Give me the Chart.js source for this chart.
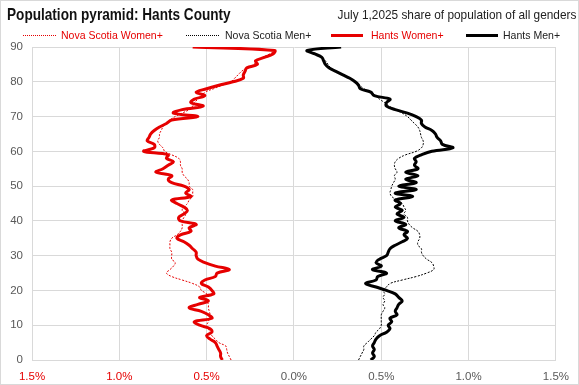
<!DOCTYPE html>
<html>
<head>
<meta charset="utf-8">
<script src="https://cdn.jsdelivr.net/npm/chart.js@4.4.1/dist/chart.umd.min.js"></script>
<style>
  body { margin: 0; background: #fff; }
  #wrap { position: relative; width: 579px; height: 385px; overflow: hidden; }
  #frame { position: absolute; left: 0; top: 0; right: 0; bottom: 0; border: 1px solid #d9d9d9; pointer-events: none; }
  canvas { position: absolute; left: 0; top: 0; }
  .title { position: absolute; left: 7px; top: 6px; font: bold 17px/17px "Liberation Sans", sans-serif; color: #111; white-space: nowrap; transform: scaleX(0.8); transform-origin: left top; }
  .subtitle { position: absolute; right: 3px; top: 8px; font: 13px/13px "Liberation Sans", sans-serif; color: #222; white-space: nowrap; transform: scaleX(0.91); transform-origin: right top; }
  .leg { position: absolute; top: 29px; font: 11.5px/12px "Liberation Sans", sans-serif; white-space: nowrap; transform: scaleX(0.915); transform-origin: left top; }
  .swatch { position: absolute; top: 35px; width: 33px; height: 0; }
</style>
</head>
<body>
<div id="wrap">
  <canvas id="pyramid" width="579" height="385"></canvas>
  <div class="title">Population pyramid: Hants County</div>
  <div class="subtitle">July 1,2025 share of population of all genders</div>

  <div class="swatch" style="left:23px;border-top:1px dotted #e60000;"></div>
  <div class="leg" style="left:61px;color:#e60000;">Nova Scotia Women+</div>
  <div class="swatch" style="left:186px;border-top:1px dotted #000;"></div>
  <div class="leg" style="left:225px;color:#222;">Nova Scotia Men+</div>
  <div class="swatch" style="left:331px;top:34px;width:32px;border-top:3px solid #e60000;"></div>
  <div class="leg" style="left:371px;color:#e60000;">Hants Women+</div>
  <div class="swatch" style="left:466px;top:34px;width:32px;border-top:3px solid #000;"></div>
  <div class="leg" style="left:503px;color:#222;">Hants Men+</div>
  <div id="frame"></div>
</div>
<script>
const red = '#e60000';
const grey = '#595959';

// single years of age, 0 to 90+
const ages = [0, 1, 2, 3, 4, 5, 6, 7, 8, 9,
    10, 11, 12, 13, 14, 15, 16, 17, 18, 19,
    20, 21, 22, 23, 24, 25, 26, 27, 28, 29,
    30, 31, 32, 33, 34, 35, 36, 37, 38, 39,
    40, 41, 42, 43, 44, 45, 46, 47, 48, 49,
    50, 51, 52, 53, 54, 55, 56, 57, 58, 59,
    60, 61, 62, 63, 64, 65, 66, 67, 68, 69,
    70, 71, 72, 73, 74, 75, 76, 77, 78, 79,
    80, 81, 82, 83, 84, 85, 86, 87, 88, 89, 90];

// share of total population, percent
const nsWomen = [0.36, 0.37, 0.38, 0.385, 0.39, 0.43, 0.45, 0.47, 0.48, 0.49,
    0.50, 0.49, 0.485, 0.48, 0.485, 0.49, 0.49, 0.50, 0.51, 0.50,
    0.53, 0.54, 0.58, 0.64, 0.70, 0.73, 0.71, 0.69, 0.68, 0.70,
    0.70, 0.70, 0.71, 0.71, 0.71, 0.70, 0.67, 0.65, 0.64, 0.64,
    0.64, 0.63, 0.62, 0.64, 0.63, 0.61, 0.60, 0.58, 0.58, 0.58,
    0.60, 0.60, 0.61, 0.63, 0.64, 0.64, 0.65, 0.65, 0.66, 0.70,
    0.74, 0.75, 0.77, 0.78, 0.77, 0.77, 0.76, 0.75, 0.73, 0.71,
    0.68, 0.64, 0.60, 0.58, 0.57, 0.55, 0.53, 0.51, 0.46, 0.41,
    0.36, 0.34, 0.32, 0.30, 0.27, 0.23, 0.21, 0.18, 0.14, 0.11, 0.58];

const nsMen = [0.37, 0.38, 0.39, 0.40, 0.40, 0.42, 0.44, 0.46, 0.47, 0.49,
    0.50, 0.50, 0.50, 0.50, 0.51, 0.52, 0.51, 0.52, 0.51, 0.52,
    0.51, 0.53, 0.55, 0.62, 0.70, 0.76, 0.80, 0.80, 0.79, 0.76,
    0.74, 0.73, 0.73, 0.71, 0.71, 0.72, 0.72, 0.71, 0.68, 0.66,
    0.65, 0.65, 0.63, 0.64, 0.63, 0.62, 0.59, 0.56, 0.55, 0.555,
    0.56, 0.57, 0.58, 0.575, 0.59, 0.58, 0.575, 0.58, 0.60, 0.64,
    0.70, 0.73, 0.74, 0.74, 0.73, 0.725, 0.72, 0.71, 0.69, 0.67,
    0.65, 0.62, 0.58, 0.545, 0.52, 0.49, 0.47, 0.44, 0.40, 0.375,
    0.35, 0.32, 0.28, 0.24, 0.21, 0.195, 0.18, 0.16, 0.13, 0.08, 0.27];

const hantsWomen = [0.41, 0.42, 0.42, 0.43, 0.44, 0.45, 0.48, 0.50, 0.47, 0.48,
    0.54, 0.57, 0.47, 0.49, 0.53, 0.60, 0.55, 0.49, 0.54, 0.46,
    0.47, 0.49, 0.53, 0.51, 0.45, 0.44, 0.37, 0.45, 0.51, 0.55,
    0.56, 0.56, 0.58, 0.60, 0.63, 0.67, 0.65, 0.59, 0.60, 0.56,
    0.65, 0.66, 0.63, 0.61, 0.63, 0.67, 0.70, 0.59, 0.62, 0.60,
    0.63, 0.70, 0.72, 0.70, 0.79, 0.75, 0.72, 0.69, 0.73, 0.72,
    0.86, 0.80, 0.80, 0.84, 0.83, 0.82, 0.80, 0.77, 0.73, 0.70,
    0.55, 0.69, 0.64, 0.52, 0.59, 0.57, 0.51, 0.56, 0.50, 0.43,
    0.35, 0.29, 0.29, 0.28, 0.27, 0.21, 0.22, 0.17, 0.12, 0.11, 0.58];

const hantsMen = [0.44, 0.46, 0.45, 0.46, 0.45, 0.46, 0.47, 0.49, 0.53, 0.55,
    0.54, 0.56, 0.55, 0.59, 0.58, 0.59, 0.60, 0.62, 0.60, 0.58,
    0.53, 0.47, 0.41, 0.47, 0.48, 0.53, 0.45, 0.50, 0.47, 0.49,
    0.53, 0.54, 0.55, 0.58, 0.62, 0.65, 0.63, 0.65, 0.60, 0.64,
    0.58, 0.63, 0.59, 0.62, 0.58, 0.61, 0.58, 0.68, 0.58, 0.70,
    0.60, 0.70, 0.64, 0.71, 0.64, 0.71, 0.69, 0.70, 0.69, 0.73,
    0.79, 0.91, 0.85, 0.84, 0.82, 0.81, 0.79, 0.75, 0.73, 0.73,
    0.70, 0.65, 0.58, 0.53, 0.53, 0.55, 0.46, 0.44, 0.38, 0.37,
    0.35, 0.32, 0.28, 0.24, 0.20, 0.18, 0.17, 0.16, 0.12, 0.076, 0.27];

const xTicks = [-1.5, -1.0, -0.5, 0, 0.5, 1.0, 1.5];

// women go on the left side of the pyramid
function points(values, side) {
    return ages.map((age, i) => ({ x: side * values[i], y: age }));
}

function lineSet(label, values, side, color, thick) {
    return {
        label: label,
        data: points(values, side),
        showLine: true,
        borderColor: color,
        backgroundColor: color,
        borderWidth: thick ? 3 : 1,
        borderDash: thick ? [] : [2, 1.5],
        pointRadius: 0,
        tension: 0.4,
        fill: false
    };
}

const pyramidData = {
    datasets: [
        lineSet('Hants Women+', hantsWomen, -1, red, true),
        lineSet('Hants Men+', hantsMen, 1, '#000', true),
        lineSet('Nova Scotia Women+', nsWomen, -1, red, false),
        lineSet('Nova Scotia Men+', nsMen, 1, '#000', false)
    ]
};

const pyramidOptions = {
    responsive: false,
    animation: false,
    devicePixelRatio: 1,
    layout: { padding: { top: 47, right: 23, left: 0, bottom: 0 } },
    scales: {
        x: {
            type: 'linear',
            min: -1.5,
            max: 1.5,
            afterBuildTicks: s => { s.ticks = xTicks.map(v => ({ value: v })); },
            afterFit: s => { s.height = 25; },
            grid: { color: '#d9d9d9', drawTicks: false },
            border: { color: '#d9d9d9' },
            ticks: {
                padding: 10,
                maxRotation: 0,
                font: { family: 'Liberation Sans', size: 11.5 },
                color: c => c.tick.value < 0 ? red : grey,
                callback: v => Math.abs(v).toFixed(1) + '%'
            }
        },
        y: {
            type: 'linear',
            min: 0,
            max: 90,
            afterFit: s => { s.width = 32; },
            grid: { color: '#d9d9d9', drawTicks: false },
            border: { color: '#d9d9d9' },
            ticks: {
                stepSize: 10,
                padding: 9,
                font: { family: 'Liberation Sans', size: 11.5 },
                color: grey
            }
        }
    },
    plugins: {
        legend: { display: false },
        tooltip: { enabled: false }
    }
};

let pyramidChart = new Chart(document.getElementById('pyramid'), {
    type: 'scatter',
    data: pyramidData,
    options: pyramidOptions
});
</script>
</body>
</html>
